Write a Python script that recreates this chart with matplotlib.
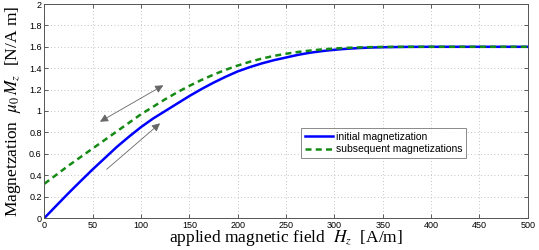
import numpy as np
import matplotlib
matplotlib.use("Agg")
import matplotlib.pyplot as plt

# ---- data ----
field = [0, 12.5, 25, 37.5, 50, 62.5, 75, 87.5, 100, 112.5, 125, 137.5, 150, 162.5,
         175, 187.5, 200, 212.5, 225, 237.5, 250, 262.5, 275, 287.5, 300, 312.5,
         325, 337.5, 350, 375, 400, 450, 500]
initial = [0, 0.117, 0.233, 0.345, 0.455, 0.56, 0.665, 0.76, 0.85, 0.93, 1.0, 1.07,
           1.14, 1.205, 1.265, 1.32, 1.37, 1.41, 1.445, 1.475, 1.50, 1.525, 1.545,
           1.56, 1.572, 1.581, 1.588, 1.593, 1.596, 1.599, 1.60, 1.60, 1.60]
subsequent = [0.32, 0.405, 0.49, 0.57, 0.65, 0.73, 0.81, 0.89, 0.97, 1.04, 1.11,
              1.175, 1.235, 1.29, 1.34, 1.385, 1.425, 1.46, 1.49, 1.515, 1.535,
              1.552, 1.565, 1.576, 1.584, 1.59, 1.594, 1.597, 1.599, 1.60, 1.60,
              1.60, 1.60]

xticks = np.arange(0, 501, 50)
yticks = np.arange(0, 2.01, 0.2)

plt.rcParams["mathtext.fontset"] = "stix"

fig = plt.figure(figsize=(5.39, 2.5), dpi=100)
ax = fig.add_axes([0.0824, 0.128, 0.8966, 0.856])

ax.plot(field, initial, color="#0000ff", lw=1.8, label="initial magnetization")
ax.plot(field, subsequent, color="#158a15", lw=1.8, ls=(0, (2.4, 1.7)),
        label="subsequent magnetizations")

# arrows showing direction of magnetization
ax.annotate("", xy=(57.5, 0.90), xytext=(123, 1.24),
            arrowprops=dict(arrowstyle="<|-|>", color="#666666", lw=0.6,
                            mutation_scale=12, shrinkA=0, shrinkB=0))
ax.annotate("", xy=(119.6, 0.885), xytext=(64.4, 0.455),
            arrowprops=dict(arrowstyle="-|>", color="#666666", lw=0.6,
                            mutation_scale=12, shrinkA=0, shrinkB=0))

ax.set_xlim(0, 500)
ax.set_ylim(0, 2)
ax.set_xticks(xticks)
ax.set_yticks(yticks)
ax.set_xticklabels([str(v) for v in xticks], fontsize=6.5, family="Liberation Sans")
ax.set_yticklabels(["0" if v == 0 else ("%g" % round(v, 1)) for v in yticks],
                   fontsize=6.5, family="Liberation Sans")
ax.tick_params(direction="in", top=True, right=True, length=3, width=0.6,
               color="#444444", pad=2)
for s in ax.spines.values():
    s.set_color("#555555")
    s.set_linewidth(0.7)
ax.grid(True, ls=(0, (1, 3)), color="#b0b0b0", lw=0.6)

ax.set_xlabel(r"applied magnetic field  $H_z$  [A/m]", family="Liberation Serif",
              fontsize=12.5, labelpad=-1)
ax.set_ylabel(r"Magnetzation  $\mu_0\,M_z$  [N/A m]", family="Liberation Serif",
              fontsize=12.5, labelpad=4)

leg = ax.legend(loc="upper left", bbox_to_anchor=(0.531, 0.42),
                prop={"family": "Liberation Sans", "size": 7.5}, frameon=True,
                fancybox=False, edgecolor="#555555", handlelength=2.7,
                borderpad=0.35, labelspacing=0.25, handletextpad=0.3,
                borderaxespad=0)
leg.get_frame().set_linewidth(0.6)

fig.savefig("out.png", dpi=100)
